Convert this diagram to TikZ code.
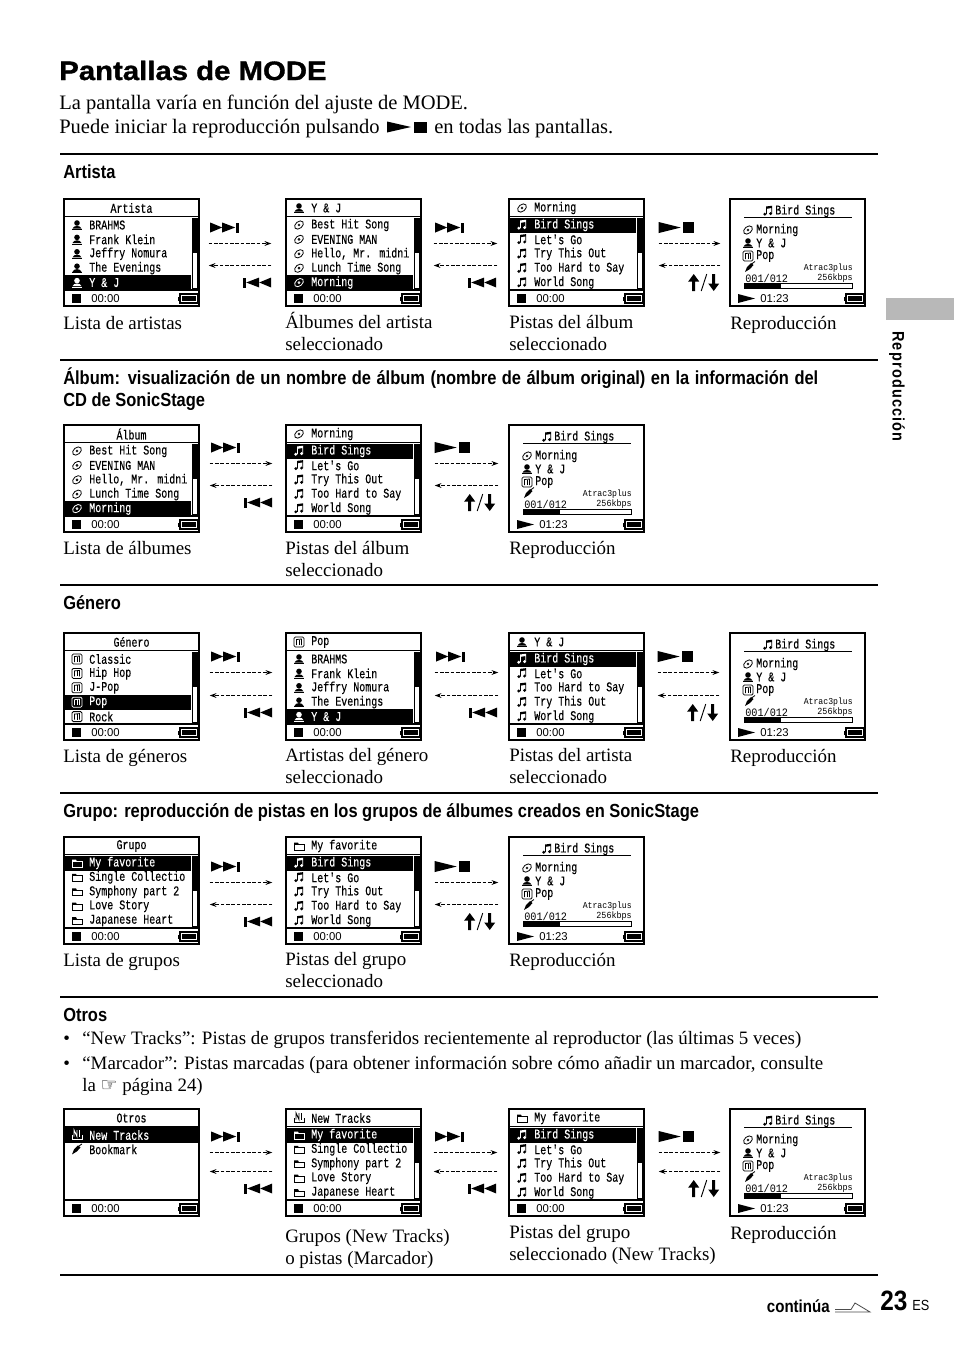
\documentclass[tikz,border=0pt]{standalone}
\usepackage{fontspec}
\setmainfont{Liberation Serif}
\newfontfamily\headfont[FakeStretch=.87]{Liberation Sans}
\newfontfamily\timefont{Liberation Sans}
\newfontfamily\titlefont[FakeStretch=1.1,FakeBold=1.2]{Liberation Sans}
\newfontfamily\sidefont[FakeStretch=.87,LetterSpace=7]{Liberation Sans}
\newfontfamily\lcdfont[FakeStretch=.75,FakeBold=.35]{Liberation Mono}
\newfontfamily\lcdwide[FakeStretch=.9]{Liberation Mono}
\newfontfamily\symfont{DejaVu Sans}
\usetikzlibrary{
  calc, % For the arrow ends
  arrows.meta % For arrow tips
}

\tikzset{
  iconperson/.pic={
    \fill (0,-2) circle (2.8);
    \fill (-4.5,3.6) .. controls (-3.5,0) and (3.5,0) .. (4.5,3.6) -- cycle;
    \fill (-5,4.2) rectangle (5,5);
  },
  icondisc/.pic={
    \draw[line width=.6pt,rotate=40] (0,0) ellipse (5 and 3.4);
    \draw[line width=.5pt] (0,0) circle (1);
  },
  iconnote/.pic={
    \fill (-3.2,3.2) circle (1.6);
    \fill (2.6,2.6) circle (1.6);
    \fill (-2,-4.5) -- (4.2,-5.3) -- (4.2,2.6) -- (3.4,2.6) -- (3.4,-3) -- (-1.2,-2.2) -- (-1.2,3.2) -- (-2,3.2) -- cycle;
  },
  icongenre/.pic={
    \draw[line width=.6pt,rounded corners=1pt] (-5,-5) rectangle (5,5);
    \draw[line width=.6pt] (-2.5,3) -- (-2.5,-2.5) -- (2.5,-3) -- (2.5,3);
    \draw[line width=.6pt] (0,-2.5) -- (0,3);
  },
  iconfolder/.pic={
    \draw[line width=.7pt] (-5,-1.5) rectangle (5,4);
    \fill (-5,-3.5) -- (-1,-3.5) -- (0,-1.5) -- (-5,-1.5) -- cycle;
  },
  iconnew/.pic={
    \draw[line width=.6pt] (-5,0) -- (-5,4.5) -- (5,4.5) -- (5,0);
    \draw[line width=.7pt] (-3,1.5) -- (-3,-5) -- (0,1.5) -- (0,-5);
    \draw[line width=.7pt] (2.5,-5) -- (2.5,2);
  },
  iconmark/.pic={
    \fill (-5,5) -- (-3,0) -- (1,-4) -- (3.5,-2) -- (0,2) -- cycle;
    \draw[line width=.6pt] (1.5,-3) -- (5,-5.5);
  },
  iconbatt/.pic={
    \draw[line width=.8pt] (-8,-4.5) rectangle (9.5,4.5);
    \fill (-10,-2) rectangle (-8,2);
    \fill (-6,-2.8) rectangle (7.5,2.8);
  },
  nextsym/.pic={
    \fill (-14.5,-5) -- (-2.5,0) -- (-14.5,5) -- cycle;
    \fill (-2.5,-5) -- (10.5,0) -- (-2.5,5) -- cycle;
    \fill (11,-5) rectangle (14,5);
  },
  prevsym/.pic={
    \fill (14.5,-5) -- (2.5,0) -- (14.5,5) -- cycle;
    \fill (2.5,-5) -- (-10.5,0) -- (2.5,5) -- cycle;
    \fill (-14,-5) rectangle (-11,5);
  },
  playsym/.pic={
    \fill (-16,-5.5) -- (6,0) -- (-16,5.5) -- cycle;
    \fill (8,-5.5) rectangle (19,5.5);
  },
  introsym/.pic={
    \fill (-20,-5.5) -- (4,0) -- (-20,5.5) -- cycle;
    \fill (7,-5.5) rectangle (20,5.5);
  },
  updownsym/.pic={
    \fill (-18.5,-1) -- (-13,-8.5) -- (-7.5,-1) -- (-11.5,-1) -- (-11.5,8.5) -- (-14.5,8.5) -- (-14.5,-1) -- cycle;
    \draw[line width=.7pt] (-5.5,8.5) -- (0,-8.5);
    \fill (12.5,1) -- (7,8.5) -- (1.5,1) -- (5.5,1) -- (5.5,-8.5) -- (8.5,-8.5) -- (8.5,1) -- cycle;
  },
  screenbox/.style={draw,line width=1.1pt,minimum width=101.25pt,minimum height=80.25pt,inner sep=0},
  ruleline/.style={line width=1.1pt},
  lcdtext/.style={inner sep=0,font=\lcdfont\fontsize{10}{10}\selectfont},
  timetext/.style={inner sep=0,font=\timefont\fontsize{8.5}{8.5}\selectfont},
  navline/.style={->,line width=.8pt,dash pattern=on 2.6pt off 1.4pt},
  bodytext/.style={inner sep=0,anchor=base west,align=left,font=\fontsize{14.2}{16.3}\selectfont},
  introtext/.style={inner sep=0,anchor=base west,font=\fontsize{15.4}{18}\selectfont},
  headtext/.style={inner sep=0,anchor=base west,align=left,font=\headfont\bfseries\fontsize{14.2}{16.5}\selectfont},
  pagerule/.style={line width=1.1pt},
}

% Marco con titulo y pie
\newcommand{\screenframe}[3]{
  \node[screenbox] (#1) at (67.5,53.5) {};
  \draw[ruleline] (0,17.5) -- (135,17.5);
  \draw[ruleline] (0,91) -- (135,91);
  \ifx\relax#2\relax
    \node[lcdtext] (#1-title) at (67.5,9) {#3};
  \else
    \pic at (13,9) {#2};
    \node[lcdtext,anchor=west] (#1-title) at (25,9) {#3};
  \fi
  \fill (8,95) rectangle (17,104);
  \node[timetext,anchor=west] (#1-time) at (27,99.5) {00:00};
  \pic at (124,99.5) {iconbatt};
}
% Una fila de la lista
\newcommand{\screenrow}[5]{
  \pgfmathsetmacro\rowy{11.6+14.4*#2}
  \begin{scope}[#5]
    \pic at (13,\rowy) {#3};
  \end{scope}
  \node[lcdtext,text=#5,anchor=west] (#1-r#2) at (25,\rowy) {#4};
}
% name, x, y, title icon, title, row icon, selected, scroll end, rows
\newcommand{\listscreen}[9]{
  \begin{scope}[shift={(#2,#3)}]
    \pgfmathsetmacro\sely{11.6+14.4*#7}
    \fill (1,\sely-7.5) rectangle (127,\sely+7.5);
    \draw[line width=.6pt] (128.5,19) rectangle (133.5,89);
    \fill (128,19) rectangle (134,#8);
    \screenframe{#1}{#4}{#5}
    \foreach \lbl [count=\i] in {#9} {
      \ifnum\i=#7
        \screenrow{#1}{\i}{#6}{\lbl}{white}
      \else
        \screenrow{#1}{\i}{#6}{\lbl}{black}
      \fi
    }
  \end{scope}
}
% Pantalla de reproduccion
\newcommand{\playscreen}[3]{
  \begin{scope}[shift={(#2,#3)}]
    \node[screenbox] (#1) at (67.5,53.5) {};
    \pic at (38,12) {iconnote};
    \node[lcdtext,anchor=west] (#1-song) at (45,12) {Bird Sings};
    \draw[line width=1.1pt] (14,18.5) -- (122,18.5);
    \pic at (18,31) {icondisc};
    \node[lcdtext,anchor=west] (#1-album) at (26,31) {Morning};
    \pic at (18,44) {iconperson};
    \node[lcdtext,anchor=west] (#1-artist) at (26,44) {Y \& J};
    \pic at (18,57) {icongenre};
    \node[lcdtext,anchor=west] (#1-genre) at (26,57) {Pop};
    \pic at (20,68) {iconmark};
    \node[inner sep=0,anchor=west,font=\lcdwide\fontsize{8.5}{8.5}\selectfont] (#1-count) at (15,79) {001/012};
    \node[inner sep=0,anchor=east,font=\lcdwide\fontsize{6.8}{8}\selectfont] (#1-codec) at (123,69) {Atrac3plus};
    \node[inner sep=0,anchor=east,font=\lcdwide\fontsize{7}{8}\selectfont] (#1-rate) at (123,79) {256kbps};
    \draw[line width=.6pt] (14,84.5) rectangle (122,89);
    \fill (14,84.5) rectangle (51,89);
    \fill (8,95) -- (25,99.5) -- (8,104) -- cycle;
    \node[timetext,anchor=west] (#1-time) at (30,99.5) {01:23};
    \pic at (124,99.5) {iconbatt};
  \end{scope}
}
% Flechas entre dos pantallas: a, b, dx, y ida, y vuelta, simbolos
\newcommand{\navarrows}[7]{
  \draw[navline] ($(#1.east)+(#3,#4)$) -- ($(#2.west)+(#3-23,#4)$);
  \draw[navline] ($(#2.west)+(#3-23,#5)$) -- ($(#1.east)+(#3,#5)$);
  \pic at ($(#1.east)+(#3+16,#4-16)$) {#6};
  \pic at ($(#1.east)+(#3+48,#5+17)$) {#7};
}
\newcommand{\capt}[4]{\node[bodytext] (#1) at (#2,#3) {#4};}

\begin{document}
\begin{tikzpicture}[
    x=0.75pt,y=-0.75pt, % Pixel des Originals
    >={Stealth[length=5pt,width=3.6pt]},
  ]
  \useasboundingbox (0,0) rectangle (954,1357);
  \fill[white] (0,0) rectangle (954,1357);

  % Cabecera
  \node[inner sep=0,anchor=base west,font=\titlefont\bfseries\fontsize{20}{24}\selectfont] (maintitle) at (59,80) {Pantallas de MODE};
  \node[introtext] (introa) at (59,109) {La pantalla varía en función del ajuste de MODE.};
  \node[introtext] (introb) at (59,133) {Puede iniciar la reproducción pulsando};
  \pic at (407,127) {introsym};
  \node[introtext] (introc) at (434,133) {en todas las pantallas.};

  % Lineas
  \foreach \ry in {154,360,585,793,997,1275} {
    \draw[pagerule] (60,\ry) -- (878,\ry);
  }

  % Artista
  \node[headtext] (headart) at (63,178) {Artista};
  \listscreen{arta}{64}{199}{}{Artista}{iconperson}{5}{54}{BRAHMS,Frank Klein,Jeffry Nomura,The Evenings,Y \& J}
  \listscreen{artb}{286}{199}{iconperson}{Y \& J}{icondisc}{5}{54}{Best Hit Song,EVENING MAN,{Hello, Mr. midni},Lunch Time Song,Morning}
  \listscreen{artc}{509}{199}{icondisc}{Morning}{iconnote}{1}{54}{Bird Sings,Let's Go,Try This Out,Too Hard to Say,World Song}
  \playscreen{artd}{730}{199}
  \navarrows{arta}{artb}{9}{-9}{13}{nextsym}{prevsym}
  \navarrows{artb}{artc}{12}{-9}{13}{nextsym}{prevsym}
  \navarrows{artc}{artd}{14}{-9}{13}{playsym}{updownsym}
  \capt{capaa}{63}{329}{Lista de artistas}
  \capt{capab}{285}{350}{Álbumes del artista\\seleccionado}
  \capt{capac}{509}{350}{Pistas del álbum\\seleccionado}
  \capt{capad}{730}{329}{Reproducción}

  % Album
  \node[headtext] (headalb) at (63,406) {\makebox[566.25pt][s]{Álbum: visualización de un nombre de álbum (nombre de álbum original) en la información del}\\CD de SonicStage};
  \listscreen{alba}{64}{425}{}{Álbum}{icondisc}{5}{54}{Best Hit Song,EVENING MAN,{Hello, Mr. midni},Lunch Time Song,Morning}
  \listscreen{albb}{286}{425}{icondisc}{Morning}{iconnote}{1}{54}{Bird Sings,Let's Go,Try This Out,Too Hard to Say,World Song}
  \playscreen{albc}{509}{425}
  \navarrows{alba}{albb}{10}{-15}{7}{nextsym}{prevsym}
  \navarrows{albb}{albc}{13}{-15}{7}{playsym}{updownsym}
  \capt{capba}{63}{554}{Lista de álbumes}
  \capt{capbb}{285}{576}{Pistas del álbum\\seleccionado}
  \capt{capbc}{509}{554}{Reproducción}

  % Genero
  \node[headtext] (headgen) at (63,609) {Género};
  \listscreen{gena}{64}{633}{}{Género}{icongenre}{4}{54}{Classic,Hip Hop,J-Pop,Pop,Rock}
  \listscreen{genb}{286}{633}{icongenre}{Pop}{iconperson}{5}{54}{BRAHMS,Frank Klein,Jeffry Nomura,The Evenings,Y \& J}
  \listscreen{genc}{509}{633}{iconperson}{Y \& J}{iconnote}{1}{54}{Bird Sings,Let's Go,Too Hard to Say,Try This Out,World Song}
  \playscreen{gend}{730}{633}
  \navarrows{gena}{genb}{10}{-14}{9}{nextsym}{prevsym}
  \navarrows{genb}{genc}{13}{-14}{9}{nextsym}{prevsym}
  \navarrows{genc}{gend}{13}{-14}{9}{playsym}{updownsym}
  \capt{capca}{63}{762}{Lista de géneros}
  \capt{capcb}{285}{783}{Artistas del género\\seleccionado}
  \capt{capcc}{509}{783}{Pistas del artista\\seleccionado}
  \capt{capcd}{730}{762}{Reproducción}

  % Grupo
  \node[headtext] (headgru) at (63,817) {Grupo: reproducción de pistas en los grupos de álbumes creados en SonicStage};
  \listscreen{grua}{64}{837}{}{Grupo}{iconfolder}{1}{54}{My favorite,Single Collectio,Symphony part 2,Love Story,Japanese Heart}
  \listscreen{grub}{286}{837}{iconfolder}{My favorite}{iconnote}{1}{54}{Bird Sings,Let's Go,Try This Out,Too Hard to Say,World Song}
  \playscreen{gruc}{509}{837}
  \navarrows{grua}{grub}{10}{-8}{14}{nextsym}{prevsym}
  \navarrows{grub}{gruc}{13}{-8}{14}{playsym}{updownsym}
  \capt{capda}{63}{966}{Lista de grupos}
  \capt{capdb}{285}{987}{Pistas del grupo\\seleccionado}
  \capt{capdc}{509}{966}{Reproducción}

  % Otros
  \node[headtext] (headotr) at (63,1021) {Otros};
  \capt{bula}{63}{1044}{•}
  \capt{bulatext}{82}{1044}{“New Tracks”: Pistas de grupos transferidos recientemente al reproductor (las últimas 5 veces)}
  \capt{bulb}{63}{1069}{•}
  \capt{bulbtext}{82}{1091}{“Marcador”: Pistas marcadas (para obtener información sobre cómo añadir un marcador, consulte\\la {\symfont ☞} página 24)}
  \begin{scope}[shift={(64,1109)}]
    \fill (1,18) rectangle (134,34);
    \screenframe{otra}{}{Otros}
    \screenrow{otra}{1}{iconnew}{New Tracks}{white}
    \screenrow{otra}{2}{iconmark}{Bookmark}{black}
  \end{scope}
  \listscreen{otrb}{286}{1109}{iconnew}{New Tracks}{iconfolder}{1}{54}{My favorite,Single Collectio,Symphony part 2,Love Story,Japanese Heart}
  \listscreen{otrc}{509}{1109}{iconfolder}{My favorite}{iconnote}{1}{54}{Bird Sings,Let's Go,Try This Out,Too Hard to Say,World Song}
  \playscreen{otrd}{730}{1109}
  \navarrows{otra}{otrb}{10}{-10}{9}{nextsym}{prevsym}
  \navarrows{otrb}{otrc}{12}{-10}{9}{nextsym}{prevsym}
  \navarrows{otrc}{otrd}{14}{-10}{9}{playsym}{updownsym}
  \capt{capeb}{285}{1264}{Grupos (New Tracks)\\o pistas (Marcador)}
  \capt{capec}{509}{1260}{Pistas del grupo\\seleccionado (New Tracks)}
  \capt{caped}{730}{1239}{Reproducción}

  % Pie y margen
  \fill[black!28] (886,298) rectangle (954,320);
  \node[inner sep=0,rotate=-90,font=\sidefont\bfseries\fontsize{12.5}{12}\selectfont] (sidetab) at (897,386.5) {Reproducción};
  \node[inner sep=0,anchor=base east,font=\headfont\bfseries\fontsize{13}{12}\selectfont] (contlabel) at (830,1312) {continúa};
  \draw[black!70,line width=.6pt] (835,1312) -- (870,1312) -- (855,1303) -- (851,1309.5) -- (835,1309.5);
  \node[inner sep=0,anchor=base west,font=\headfont\bfseries\fontsize{21}{21}\selectfont] (pagenum) at (880,1310) {23};
  \node[inner sep=0,anchor=base west,font=\headfont\fontsize{11}{11}\selectfont] (pagelang) at (912,1310) {ES};
\end{tikzpicture}
\end{document}
